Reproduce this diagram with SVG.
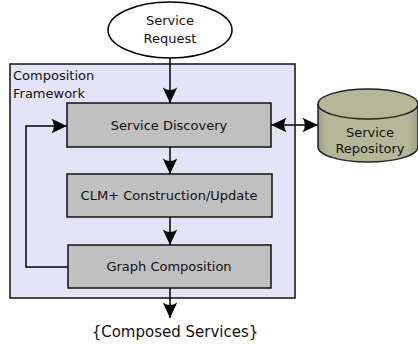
<svg xmlns="http://www.w3.org/2000/svg" width="418" height="345" viewBox="0 0 418 345">
<style>
text{font-family:"DejaVu Sans","Liberation Sans",sans-serif;font-size:13px;fill:#111;}
.box{fill:#c0c0c0;stroke:#111;stroke-width:1.5;}
.conn{fill:none;stroke:#000;stroke-width:1.5;}
</style>
<defs>
<marker id="ah" markerUnits="userSpaceOnUse" markerWidth="20" markerHeight="20" viewBox="-16 -8 18 16" refX="0" refY="0" orient="auto">
<path d="M0,0 L-14,-6.5 Q-9.5,0 -14,6.5 Z" fill="#000"/>
</marker>
<marker id="ahs" markerUnits="userSpaceOnUse" markerWidth="20" markerHeight="20" viewBox="-16 -8 18 16" refX="0" refY="0" orient="auto-start-reverse">
<path d="M0,0 L-14,-6.5 Q-9.5,0 -14,6.5 Z" fill="#000"/>
</marker>
<linearGradient id="cyl" x1="0" y1="0" x2="1" y2="0">
<stop offset="0" stop-color="#9a9a7c"/>
<stop offset="0.08" stop-color="#b6b698"/>
<stop offset="0.9" stop-color="#b6b698"/>
<stop offset="1" stop-color="#a2a284"/>
</linearGradient>
</defs>
<g id="framework">
<rect x="10" y="64" width="285" height="234" fill="#e4e4f8" stroke="#111" stroke-width="1.5"/>
<text x="13" y="80">Composition</text>
<text x="13" y="98">Framework</text>
</g>
<g id="connectors">
<line class="conn" x1="170" y1="58" x2="170" y2="103" marker-end="url(#ah)"/>
<line class="conn" x1="170" y1="147" x2="170" y2="174" marker-end="url(#ah)"/>
<line class="conn" x1="170" y1="217" x2="170" y2="245" marker-end="url(#ah)"/>
<line class="conn" x1="170" y1="288" x2="170" y2="318" marker-end="url(#ah)"/>
<polyline class="conn" points="68,267 26,267 26,126 67,126" marker-end="url(#ah)"/>
<line class="conn" x1="271" y1="125" x2="318" y2="125" marker-start="url(#ahs)" marker-end="url(#ah)"/>
</g>
<g id="service-request">
<ellipse cx="170" cy="30" rx="62" ry="28" fill="#fff" stroke="#000" stroke-width="1.5"/>
<text x="170" y="25" text-anchor="middle">Service</text>
<text x="170" y="43" text-anchor="middle">Request</text>
</g>
<g id="service-discovery">
<rect class="box" x="67" y="103" width="204" height="44"/>
<text x="169" y="130" text-anchor="middle">Service Discovery</text>
</g>
<g id="clm-construction">
<rect class="box" x="67" y="174" width="205" height="43"/>
<text x="169" y="200" text-anchor="middle">CLM+ Construction/Update</text>
</g>
<g id="graph-composition">
<rect class="box" x="68" y="245" width="203" height="43"/>
<text x="169" y="271" text-anchor="middle">Graph Composition</text>
</g>
<g id="service-repository">
<path d="M318,104 L318,147 A50,15 0 0 0 418,147 L418,104" fill="url(#cyl)" stroke="#222" stroke-width="1.5"/>
<ellipse cx="368" cy="104" rx="50" ry="15" fill="#b6b698" stroke="#222" stroke-width="1.5"/>
<text x="370" y="137" text-anchor="middle">Service</text>
<text x="370" y="153" text-anchor="middle">Repository</text>
</g>
<g id="composed-services">
<text x="175" y="337" text-anchor="middle" style="font-size:15px">{Composed Services}</text>
</g>
</svg>
